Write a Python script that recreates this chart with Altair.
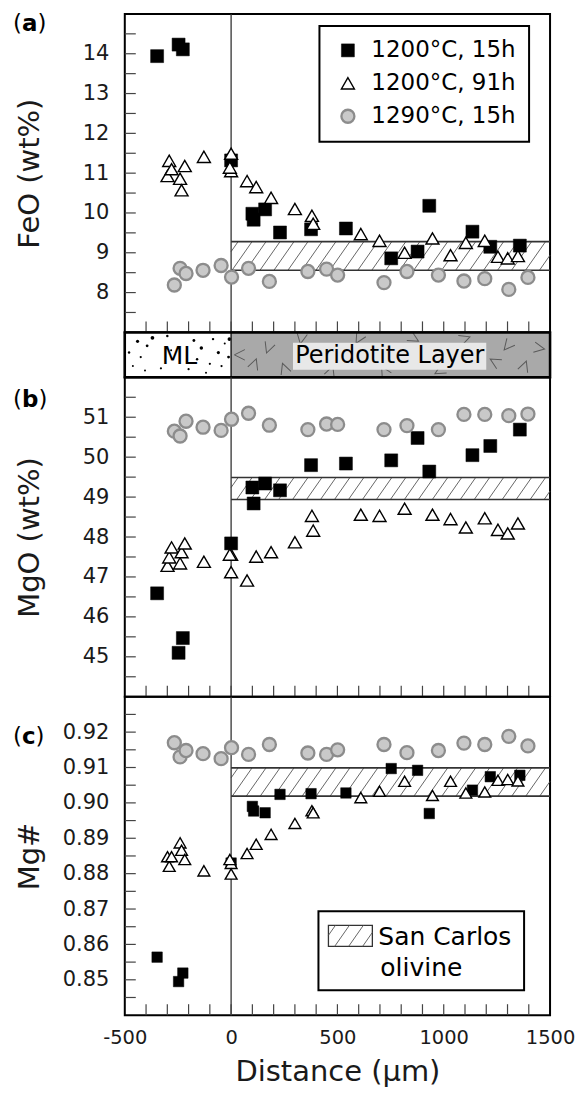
import altair as alt
import pandas as pd

FONT = "DejaVu Sans"
W = 426
H_A, H_S, H_B, H_C = 319, 45, 320, 319
X_DOMAIN = [-500, 1500]
PXU = W / (X_DOMAIN[1] - X_DOMAIN[0])
TICK = 11

SERIES = ["1200°C, 15h", "1200°C, 91h", "1290°C, 15h"]

# distance (µm) of each analysis, per run
SQ_X = [-348, -247, -227, 0, 100, 106, 160, 230, 376, 540, 753, 877, 932, 1135, 1219, 1358]
TR_X = [-299, -291, -280, -240, -233, -218, -128, 0, 0, -6, 75, 118, 188, 300, 380, 386,
        610, 698, 816, 947, 1032, 1104, 1193, 1255, 1301, 1349]
CI_X = [-267, -240, -212, -132, -47, 2, 82, 180, 361, 449, 501, 719, 827, 975, 1095, 1193, 1306, 1396]

FEO_SQ = [13.94, 14.23, 14.11, 11.32, 9.98, 9.83, 10.09, 9.51, 9.59, 9.61, 8.86, 9.03, 10.18, 9.53, 9.15, 9.18]
FEO_TR = [10.93, 11.31, 11.10, 10.86, 10.57, 11.18, 11.41, 11.49, 11.05, 11.14, 10.80, 10.65, 10.38, 10.10,
          9.93, 9.73, 9.47, 9.30, 9.00, 9.36, 8.94, 9.25, 9.30, 8.90, 8.86, 8.92]
FEO_CI = [8.19, 8.61, 8.48, 8.56, 8.68, 8.39, 8.61, 8.28, 8.53, 8.59, 8.44, 8.25, 8.53, 8.44, 8.29, 8.35, 8.08, 8.38]

MGO_SQ = [46.59, 45.10, 45.47, 47.84, 49.24, 48.84, 49.34, 49.17, 49.80, 49.84, 49.92, 50.48, 49.64, 50.05, 50.28, 50.69]
MGO_TR = [47.28, 47.49, 47.74, 47.34, 47.62, 47.84, 47.38, 47.56, 47.12, 47.56, 46.91, 47.51, 47.62, 47.87,
          48.53, 48.16, 48.56, 48.53, 48.71, 48.56, 48.45, 48.24, 48.47, 48.18, 48.09, 48.34]
MGO_CI = [50.65, 50.53, 50.90, 50.75, 50.67, 50.95, 51.10, 50.80, 50.69, 50.83, 50.82, 50.69, 50.79, 50.69,
          51.07, 51.07, 51.04, 51.08]

MGN_SQ = [0.8564, 0.8495, 0.8519, 0.8830, 0.8990, 0.8977, 0.8972, 0.9024, 0.9026, 0.9028, 0.9097, 0.9092,
          0.8970, 0.9036, 0.9074, 0.9078]
MGN_TR = [0.8848, 0.8821, 0.8848, 0.8887, 0.8866, 0.8840, 0.8808, 0.8829, 0.8799, 0.8840, 0.8857, 0.8883,
          0.8911, 0.8942, 0.8978, 0.8972, 0.9015, 0.9033, 0.9061, 0.9021, 0.9061, 0.9028, 0.9031, 0.9064,
          0.9066, 0.9062]
MGN_CI = [0.9170, 0.9130, 0.9148, 0.9139, 0.9125, 0.9156, 0.9137, 0.9165, 0.9141, 0.9137, 0.9150, 0.9165,
          0.9142, 0.9148, 0.9169, 0.9165, 0.9188, 0.9161]

# San Carlos olivine reference band
SC_X = [0, 1500]
SC_FEO = [8.56, 9.28]
SC_MGO = [48.94, 49.49]
SC_MGN = [0.9019, 0.9099]

# axis labels / ticks
X_LABELS = [-500, 0, 500, 1000, 1500]
X_TICKS = [-400, -300, -200, -100, 0, 100, 200, 300, 400, 500, 600, 700, 800, 900, 1000, 1100, 1200, 1300, 1400]
FEO_LABELS = [8, 9, 10, 11, 12, 13, 14]
FEO_TICKS = [7.5, 8, 8.5, 9, 9.5, 10, 10.5, 11, 11.5, 12, 12.5, 13, 13.5, 14, 14.5]
MGO_LABELS = [45, 46, 47, 48, 49, 50, 51]
MGO_TICKS = [44.5, 45, 45.5, 46, 46.5, 47, 47.5, 48, 48.5, 49, 49.5, 50, 50.5, 51, 51.5]
MGN_LABELS = [0.85, 0.86, 0.87, 0.88, 0.89, 0.90, 0.91, 0.92]
MGN_TICKS = [0.845, 0.85, 0.855, 0.86, 0.865, 0.87, 0.875, 0.88, 0.885, 0.89, 0.895, 0.90, 0.905,
             0.91, 0.915, 0.92, 0.925]

# layer strip decoration (ML dots / peridotite texture)
ML_DOT_X = [-480, -462, -440, -425, -405, -395, -370, -330, -300, -282, -200, -175, -160, -140, -118,
            -100, -85, -60, -45, -30, -12, -8]
ML_DOT_Y = [0.55, 0.25, 0.80, 0.45, 0.15, 0.70, 0.88, 0.20, 0.92, 0.60, 0.18, 0.82, 0.40, 0.65, 0.10,
            0.30, 0.85, 0.55, 0.25, 0.75, 0.45, 0.85]
ML_DOT_S = [6, 4, 10, 5, 4, 8, 14, 5, 6, 4, 5, 8, 6, 12, 4, 5, 6, 10, 5, 4, 8, 14]
PER_X = [40, 110, 175, 250, 330, 470, 600, 720, 860, 980, 1100, 1240, 1300, 1380, 1450]
PER_Y = [0.5, 0.3, 0.65, 0.2, 0.86, 0.14, 0.86, 0.14, 0.86, 0.14, 0.86, 0.35, 0.7, 0.25, 0.65]
PER_A = [90, 200, 20, 160, 10, 200, 30, 150, 300, 60, 250, 120, 40, 200, 280]


def hatch_rows(lo, hi, ydom, H, x0, x1, spacing_px=14.0, slope=0.7):
    hpx = (hi - lo) / (ydom[1] - ydom[0]) * H
    run = slope * hpx / PXU
    sp = spacing_px / PXU
    rows = []
    s = x0 - run + sp * 0.5
    while s < x1:
        xa, ya, xb, yb = s, lo, s + run, hi
        if xa < x0:
            ya = lo + (x0 - s) / run * (hi - lo)
            xa = x0
        if xb > x1:
            yb = lo + (x1 - s) / run * (hi - lo)
            xb = x1
        rows.append(dict(x=xa, y=ya, x2=xb, y2=yb))
        s += sp
    return pd.DataFrame(rows)


def one():
    return pd.DataFrame({"k": [0]})


def panel_label(letter, ly, bold_w):
    base = -112
    parts = [("(", base, "normal"), (letter, base + 9, "bold"), (")", base + 9 + bold_w, "normal")]
    out = []
    for t, px, fw in parts:
        out.append(alt.Chart(one()).mark_text(text=t, align="left", baseline="middle", fontSize=23,
                                             fontWeight=fw, color="black")
                   .encode(x=alt.value(px), y=alt.value(ly)))
    return out


def panel(letter, title, ydom, H, labels, fmt, yticks, sq, tr, ci, band, sizes, show_legend,
          show_x, label_y, bold_w, extra=None):
    xs = alt.Scale(domain=X_DOMAIN, nice=False, zero=False)
    ys = alt.Scale(domain=ydom, nice=False, zero=False)
    df = pd.concat([
        pd.DataFrame({"x": SQ_X, "y": sq, "series": SERIES[0]}),
        pd.DataFrame({"x": TR_X, "y": tr, "series": SERIES[1]}),
        pd.DataFrame({"x": CI_X, "y": ci, "series": SERIES[2]}),
    ], ignore_index=True)

    if show_legend:
        leg = alt.Legend(title=None, orient="none", legendX=195, legendY=12, strokeColor="black",
                         fillColor="white", padding=13, labelFont=FONT, labelFontSize=23,
                         labelColor="black", symbolOffset=4, labelOffset=12, rowPadding=9,
                         symbolOpacity=1, labelLimit=400)
    else:
        leg = None

    yaxis = alt.Axis(values=labels, title=title, format=fmt, labelFont=FONT, titleFont=FONT,
                     labelFontSize=21, titleFontSize=29, titleFontWeight="normal",
                     labelColor="#1a1a1a", titleColor="#1a1a1a", labelPadding=16, ticks=False,
                     domain=False, grid=False, minExtent=50, maxExtent=50,
                     titlePadding=30, labelFlush=False)
    if show_x:
        xaxis = alt.Axis(values=X_LABELS, title="Distance (µm)", labelExpr="'' + datum.value",
                         labelFont=FONT, titleFont=FONT, labelFontSize=19.5, titleFontSize=29,
                         titleFontWeight="normal", labelColor="#1a1a1a", titleColor="#1a1a1a",
                         labelPadding=13, titlePadding=11, ticks=False,
                         domain=False, grid=False, labelFlush=False, labelOverlap=False)
    else:
        xaxis = None

    def X(f):
        return alt.X(f, type="quantitative", scale=xs, axis=xaxis)

    def Y(f):
        return alt.Y(f, type="quantitative", scale=ys, axis=yaxis)

    pts = alt.Chart(df).mark_point(filled=True, opacity=1).encode(
        x=X("x"),
        y=Y("y"),
        shape=alt.Shape("series:N", scale=alt.Scale(domain=SERIES, range=["square", "triangle-up", "circle"]), legend=leg),
        fill=alt.Fill("series:N", scale=alt.Scale(domain=SERIES, range=["#000000", "#ffffff", "#c9c9c9"]), legend=leg),
        stroke=alt.Stroke("series:N", scale=alt.Scale(domain=SERIES, range=["#000000", "#000000", "#8c8c8c"]), legend=leg),
        size=alt.Size("series:N", scale=alt.Scale(domain=SERIES, range=sizes), legend=leg),
        strokeWidth=alt.StrokeWidth("series:N", scale=alt.Scale(domain=SERIES, range=[0.5, 2.3, 1.1]), legend=leg),
    )

    hatch = alt.Chart(hatch_rows(band[0], band[1], ydom, H, SC_X[0], SC_X[1])).mark_rule(
        color="#555555", strokeWidth=0.9).encode(x=X("x"), x2="x2:Q", y=Y("y"), y2="y2:Q")
    edges = alt.Chart(pd.DataFrame({"x": [SC_X[0]] * 2, "x2": [SC_X[1]] * 2, "y": band})).mark_rule(
        color="#333333", strokeWidth=1.6).encode(x=X("x"), x2="x2:Q", y=Y("y"))
    zero = alt.Chart(pd.DataFrame({"x": [0]})).mark_rule(color="#333333", strokeWidth=1.3).encode(
        x=X("x"), y=alt.value(0), y2=alt.value(H))
    yt = alt.Chart(pd.DataFrame({"y": yticks})).mark_rule(color="#444444", strokeWidth=1.2).encode(
        y=Y("y"), x=alt.value(0), x2=alt.value(TICK))
    xt = alt.Chart(pd.DataFrame({"x": X_TICKS})).mark_rule(color="#444444", strokeWidth=1.2).encode(
        x=X("x"), y=alt.value(H), y2=alt.value(H - TICK))

    layers = [hatch, edges, zero, yt, xt, pts] + panel_label(letter, label_y, bold_w)
    if extra:
        layers += extra
    return alt.layer(*layers).properties(width=W, height=H)


def sancarlos_key():
    bx0, bx1, by0, by1 = 194, 400, 215, 294
    sx0, sx1, sy0, sy1 = 204, 248, 229, 250
    out = [
        alt.Chart(one()).mark_rect(fill="white", stroke="black", strokeWidth=2).encode(
            x=alt.value(bx0), x2=alt.value(bx1), y=alt.value(by0), y2=alt.value(by1)),
        alt.Chart(one()).mark_rect(fill="white", stroke="#333333", strokeWidth=1.3).encode(
            x=alt.value(sx0), x2=alt.value(sx1), y=alt.value(sy0), y2=alt.value(sy1)),
    ]
    h = sy1 - sy0
    run = 0.7 * h
    s = sx0 - run + 7
    while s < sx1:
        xa, ya, xb, yb = s, sy1, s + run, sy0
        if xa < sx0:
            ya = sy1 - (sx0 - s) / run * h
            xa = sx0
        if xb > sx1:
            yb = sy1 - (sx1 - s) / run * h
            xb = sx1
        out.append(alt.Chart(one()).mark_rule(color="#555555", strokeWidth=0.9).encode(
            x=alt.value(xa), x2=alt.value(xb), y=alt.value(ya), y2=alt.value(yb)))
        s += 14
    out.append(alt.Chart(one()).mark_text(text="San Carlos", align="left", baseline="middle",
                                          fontSize=25, color="black").encode(
        x=alt.value(254), y=alt.value(241)))
    out.append(alt.Chart(one()).mark_text(text="olivine", align="left", baseline="middle",
                                          fontSize=25, color="black").encode(
        x=alt.value(256), y=alt.value(272)))
    return out


def strip():
    xs = alt.Scale(domain=X_DOMAIN, nice=False, zero=False)
    ys = alt.Scale(domain=[0, 1], nice=False, zero=False)
    rects = pd.DataFrame({"x": [-500, 0], "x2": [0, 1500], "c": ["ml", "per"]})
    bg = alt.Chart(rects).mark_rect().encode(
        x=alt.X("x:Q", scale=xs, axis=None), x2="x2:Q", y=alt.value(0), y2=alt.value(H_S),
        fill=alt.Fill("c:N", scale=alt.Scale(domain=["ml", "per"], range=["#ffffff", "#a9a9a9"]), legend=None))
    dots = alt.Chart(pd.DataFrame({"x": ML_DOT_X, "y": ML_DOT_Y, "s": ML_DOT_S})).mark_circle(
        color="black", opacity=1).encode(
        x=alt.X("x:Q", scale=xs, axis=None), y=alt.Y("y:Q", scale=ys, axis=None),
        size=alt.Size("s:Q", scale=None, legend=None))
    vees = alt.Chart(pd.DataFrame({"x": PER_X, "y": PER_Y, "a": PER_A})).mark_point(
        shape="M-1,-1L0,1L1,-1", filled=False, stroke="#5a5a5a", strokeWidth=1, size=110, opacity=1,
        clip=True).encode(
        x=alt.X("x:Q", scale=xs, axis=None), y=alt.Y("y:Q", scale=ys, axis=None),
        angle=alt.Angle("a:Q", scale=None))
    box = alt.Chart(pd.DataFrame({"x": [291], "x2": [1200], "y": [0.17], "y2": [0.77]})).mark_rect(
        fill="#e8e8e8").encode(
        x=alt.X("x:Q", scale=xs, axis=None), x2="x2:Q", y=alt.Y("y:Q", scale=ys, axis=None), y2="y2:Q")
    txt = alt.Chart(pd.DataFrame({"x": [-243, 746], "t": ["ML", "Peridotite Layer"], "f": [25, 24]})).mark_text(
        color="black", baseline="middle", align="center").encode(
        x=alt.X("x:Q", scale=xs, axis=None), y=alt.value(H_S / 2 + 1), text="t:N",
        size=alt.Size("f:Q", scale=None, legend=None))
    zero = alt.Chart(pd.DataFrame({"x": [0]})).mark_rule(color="#222222", strokeWidth=1.5).encode(
        x=alt.X("x:Q", scale=xs, axis=None), y=alt.value(0), y2=alt.value(H_S))
    frame = alt.Chart(one()).mark_rect(filled=False, stroke="black", strokeWidth=2.5).encode(
        x=alt.value(0), x2=alt.value(W), y=alt.value(0), y2=alt.value(H_S))
    return alt.layer(bg, dots, vees, box, txt, zero, frame).properties(width=W, height=H_S)


pa = panel("a", "FeO (wt%)", [7, 15], H_A, FEO_LABELS, "d", FEO_TICKS,
           FEO_SQ, FEO_TR, FEO_CI, SC_FEO, [169, 170, 115], True, False, 10, 15.5)
pb = panel("b", "MgO (wt%)", [44, 52], H_B, MGO_LABELS, "d", MGO_TICKS,
           MGO_SQ, MGO_TR, MGO_CI, SC_MGO, [169, 170, 115], False, False, 23, 16.5)
pc = panel("c", "Mg#", [0.84, 0.93], H_C, MGN_LABELS, ".2f", MGN_TICKS,
           MGN_SQ, MGN_TR, MGN_CI, SC_MGN, [110, 170, 115], False, True, 40, 13.6,
           extra=sancarlos_key())

chart = alt.vconcat(pa, strip(), pb, pc, spacing=0, bounds="flush").resolve_scale(
    x="independent", y="independent", shape="independent", fill="independent",
    stroke="independent", size="independent", strokeWidth="independent", angle="independent"
).properties(
    padding={"left": 4, "top": 3, "right": 0, "bottom": 0}
).configure(font=FONT, background="white").configure_view(
    stroke="black", strokeWidth=2
).configure_legend(strokeWidth=2)

chart.save("out.html", embed_options={"renderer": "svg", "actions": False})
